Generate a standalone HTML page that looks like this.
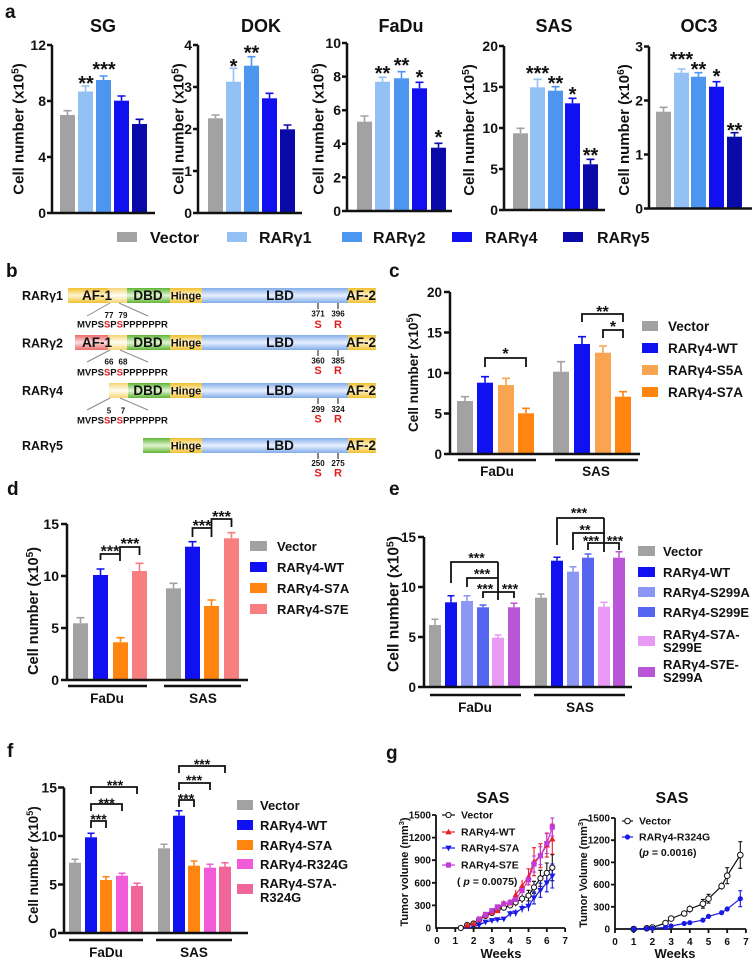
<!DOCTYPE html>
<html><head><meta charset="utf-8">
<style>
html,body{margin:0;padding:0;background:#fff;}
svg{display:block;}
text{font-family:"Liberation Sans",Arial,sans-serif;font-weight:bold;fill:#111;}
text.red{fill:#e31a1c;}
.ax{fill:none;stroke:#111;stroke-width:2.5;}
.thin{fill:none;stroke:#111;stroke-width:1.8;}
.br{fill:none;stroke:#111;stroke-width:1.8;}
</style></head>
<body>
<svg width="756" height="966" viewBox="0 0 756 966" xmlns="http://www.w3.org/2000/svg">
<defs>
<linearGradient id="gY" x1="0" y1="0" x2="0" y2="1"><stop offset="0" stop-color="#f0c02e"/><stop offset="0.5" stop-color="#fff4cf"/><stop offset="1" stop-color="#f0c02e"/></linearGradient>
<linearGradient id="gYl" x1="0" y1="0" x2="0" y2="1"><stop offset="0" stop-color="#f6d577"/><stop offset="0.5" stop-color="#fffdf3"/><stop offset="1" stop-color="#f6d577"/></linearGradient>
<linearGradient id="gG" x1="0" y1="0" x2="0" y2="1"><stop offset="0" stop-color="#5fb534"/><stop offset="0.5" stop-color="#e2f4d2"/><stop offset="1" stop-color="#5fb534"/></linearGradient>
<linearGradient id="gB" x1="0" y1="0" x2="0" y2="1"><stop offset="0" stop-color="#82ace9"/><stop offset="0.5" stop-color="#e8f0ff"/><stop offset="1" stop-color="#82ace9"/></linearGradient>
<linearGradient id="gR" x1="0" y1="0" x2="0" y2="1"><stop offset="0" stop-color="#ec6a6a"/><stop offset="0.5" stop-color="#fbdcdc"/><stop offset="1" stop-color="#ec6a6a"/></linearGradient>
<path id="tu" d="M0,-3.2L3.2,2.4L-3.2,2.4Z"/>
<path id="td" d="M0,3.2L3.2,-2.4L-3.2,-2.4Z"/>
<rect id="sq" x="-2.6" y="-2.6" width="5.2" height="5.2"/>
</defs>

<!-- ================= PANEL A ================= -->
<text x="5" y="18" font-size="19">a</text>
<g font-size="18" text-anchor="middle">
<text x="103" y="32">SG</text>
<text x="261" y="32">DOK</text>
<text x="401" y="32">FaDu</text>
<text x="554" y="32">SAS</text>
<text x="699" y="32">OC3</text>
</g>
<g font-size="15" text-anchor="middle">
<text transform="translate(23.5,129) rotate(-90)">Cell number (x10<tspan dy="-5" font-size="10">5</tspan><tspan dy="5">)</tspan></text>
<text transform="translate(183.5,129) rotate(-90)">Cell number (x10<tspan dy="-5" font-size="10">5</tspan><tspan dy="5">)</tspan></text>
<text transform="translate(323.5,129) rotate(-90)">Cell number (x10<tspan dy="-5" font-size="10">5</tspan><tspan dy="5">)</tspan></text>
<text transform="translate(474,130) rotate(-90)">Cell number (x10<tspan dy="-5" font-size="10">5</tspan><tspan dy="5">)</tspan></text>
<text transform="translate(629,130) rotate(-90)">Cell number (x10<tspan dy="-5" font-size="10">6</tspan><tspan dy="5">)</tspan></text>
</g>

<!-- SG -->
<g stroke-width="1.6" fill="none">
<rect x="60" y="115" width="15" height="98" fill="#a2a2a2"/><path d="M67.5,115V110.7M63.5,110.7H71.5" stroke="#a2a2a2"/>
<rect x="78" y="91.5" width="15" height="121.5" fill="#93c0f5"/><path d="M85.5,91.5V86M81.5,86H89.5" stroke="#93c0f5"/>
<rect x="96" y="80" width="15" height="133" fill="#4d96ef"/><path d="M103.5,80V76M99.5,76H107.5" stroke="#4d96ef"/>
<rect x="114" y="100.7" width="15" height="112.3" fill="#1010f0"/><path d="M121.5,100.7V96M117.5,96H125.5" stroke="#1010f0"/>
<rect x="132" y="124" width="15" height="89" fill="#0a0aa8"/><path d="M139.5,124V119.3M135.5,119.3H143.5" stroke="#0a0aa8"/>
</g>
<path class="ax" d="M52,45V213H155M47,45H52M47,101H52M47,157H52M47,213H52"/>
<g font-size="14" text-anchor="end"><text x="46" y="50">12</text><text x="46" y="106">8</text><text x="46" y="162">4</text><text x="46" y="218">0</text></g>
<g font-size="20" text-anchor="middle"><text x="86" y="90">**</text><text x="104" y="76">***</text></g>

<!-- DOK -->
<g stroke-width="1.6" fill="none">
<rect x="208" y="118.3" width="15" height="94.7" fill="#a2a2a2"/><path d="M215.5,118.3V115M211.5,115H219.5" stroke="#a2a2a2"/>
<rect x="226" y="81.7" width="15" height="131.3" fill="#93c0f5"/><path d="M233.5,81.7V68.3M229.5,68.3H237.5" stroke="#93c0f5"/>
<rect x="244" y="65.7" width="15" height="147.3" fill="#4d96ef"/><path d="M251.5,65.7V56.7M247.5,56.7H255.5" stroke="#4d96ef"/>
<rect x="262" y="98.3" width="15" height="114.7" fill="#1010f0"/><path d="M269.5,98.3V93.3M265.5,93.3H273.5" stroke="#1010f0"/>
<rect x="280" y="129.3" width="15" height="83.7" fill="#0a0aa8"/><path d="M287.5,129.3V125M283.5,125H291.5" stroke="#0a0aa8"/>
</g>
<path class="ax" d="M198,45V213H302M193,45H198M193,87H198M193,129H198M193,171H198M193,213H198"/>
<g font-size="14" text-anchor="end"><text x="192" y="50">4</text><text x="192" y="92">3</text><text x="192" y="134">2</text><text x="192" y="176">1</text><text x="192" y="218">0</text></g>
<g font-size="20" text-anchor="middle"><text x="233.5" y="73">*</text><text x="251.5" y="59.5">**</text></g>

<!-- FaDu -->
<g stroke-width="1.6" fill="none">
<rect x="357" y="121.7" width="15" height="89.3" fill="#a2a2a2"/><path d="M364.5,121.7V116M360.5,116H368.5" stroke="#a2a2a2"/>
<rect x="375" y="81.7" width="15" height="129.3" fill="#93c0f5"/><path d="M382.5,81.7V77.3M378.5,77.3H386.5" stroke="#93c0f5"/>
<rect x="394" y="78.3" width="15" height="132.7" fill="#4d96ef"/><path d="M401.5,78.3V71.7M397.5,71.7H405.5" stroke="#4d96ef"/>
<rect x="412" y="88.3" width="15" height="122.7" fill="#1010f0"/><path d="M419.5,88.3V82.3M415.5,82.3H423.5" stroke="#1010f0"/>
<rect x="431" y="147.7" width="15" height="63.3" fill="#0a0aa8"/><path d="M438.5,147.7V143.3M434.5,143.3H442.5" stroke="#0a0aa8"/>
</g>
<path class="ax" d="M347,43V211H452M342,43H347M342,76.6H347M342,110.2H347M342,143.8H347M342,177.4H347M342,211H347"/>
<g font-size="14" text-anchor="end"><text x="341" y="48">10</text><text x="341" y="81.6">8</text><text x="341" y="115.2">6</text><text x="341" y="148.8">4</text><text x="341" y="182.4">2</text><text x="341" y="216">0</text></g>
<g font-size="20" text-anchor="middle"><text x="382.5" y="80">**</text><text x="401.5" y="72">**</text><text x="419.5" y="84">*</text><text x="438.5" y="144">*</text></g>

<!-- SAS -->
<g stroke-width="1.6" fill="none">
<rect x="513" y="133.3" width="15" height="76.7" fill="#a2a2a2"/><path d="M520.5,133.3V128.3M516.5,128.3H524.5" stroke="#a2a2a2"/>
<rect x="530" y="87.3" width="15" height="122.7" fill="#93c0f5"/><path d="M537.5,87.3V79.3M533.5,79.3H541.5" stroke="#93c0f5"/>
<rect x="548" y="90.7" width="15" height="119.3" fill="#4d96ef"/><path d="M555.5,90.7V86.7M551.5,86.7H559.5" stroke="#4d96ef"/>
<rect x="565" y="103.3" width="15" height="106.7" fill="#1010f0"/><path d="M572.5,103.3V98.3M568.5,98.3H576.5" stroke="#1010f0"/>
<rect x="583" y="164.3" width="15" height="45.7" fill="#0a0aa8"/><path d="M590.5,164.3V159.3M586.5,159.3H594.5" stroke="#0a0aa8"/>
</g>
<path class="ax" d="M504,46V210H605M499,46H504M499,87H504M499,128H504M499,169H504M499,210H504"/>
<g font-size="14" text-anchor="end"><text x="498" y="51">20</text><text x="498" y="92">15</text><text x="498" y="133">10</text><text x="498" y="174">5</text><text x="498" y="215">0</text></g>
<g font-size="20" text-anchor="middle"><text x="537.5" y="80">***</text><text x="555.5" y="90">**</text><text x="572.5" y="101">*</text><text x="590.5" y="162">**</text></g>

<!-- OC3 -->
<g stroke-width="1.6" fill="none">
<rect x="656" y="111.7" width="15" height="96.8" fill="#a2a2a2"/><path d="M663.5,111.7V107.3M659.5,107.3H667.5" stroke="#a2a2a2"/>
<rect x="674" y="72.7" width="15" height="135.8" fill="#93c0f5"/><path d="M681.5,72.7V69M677.5,69H685.5" stroke="#93c0f5"/>
<rect x="691" y="76.7" width="15" height="131.8" fill="#4d96ef"/><path d="M698.5,76.7V72.7M694.5,72.7H702.5" stroke="#4d96ef"/>
<rect x="709" y="86.7" width="15" height="121.8" fill="#1010f0"/><path d="M716.5,86.7V81.7M712.5,81.7H720.5" stroke="#1010f0"/>
<rect x="727" y="136.7" width="15" height="71.8" fill="#0a0aa8"/><path d="M734.5,136.7V132.7M730.5,132.7H738.5" stroke="#0a0aa8"/>
</g>
<path class="ax" d="M649,46.5V208.5H752M644,46.5H649M644,100.5H649M644,154.5H649M644,208.5H649"/>
<g font-size="14" text-anchor="end"><text x="643" y="51.5">3</text><text x="643" y="105.5">2</text><text x="643" y="159.5">1</text><text x="643" y="213.5">0</text></g>
<g font-size="20" text-anchor="middle"><text x="681.5" y="66">***</text><text x="698.5" y="76">**</text><text x="716.5" y="83">*</text><text x="734.5" y="137">**</text></g>

<!-- legend a -->
<rect x="117" y="232" width="20" height="10" fill="#a2a2a2"/>
<rect x="227" y="232" width="20" height="10" fill="#93c0f5"/>
<rect x="342" y="232" width="20" height="10" fill="#4d96ef"/>
<rect x="452" y="232" width="20" height="10" fill="#1010f0"/>
<rect x="563" y="232" width="20" height="10" fill="#0a0aa8"/>
<g font-size="16"><text x="150" y="243">Vector</text><text x="259" y="243">RARγ1</text><text x="373" y="243">RARγ2</text><text x="485" y="243">RARγ4</text><text x="597" y="243">RARγ5</text></g>

<!-- ================= PANEL B ================= -->
<text x="6" y="277" font-size="19">b</text>
<g font-size="12.5"><text x="22" y="300">RARγ1</text><text x="22" y="347.5">RARγ2</text><text x="22" y="395">RARγ4</text><text x="22" y="450">RARγ5</text></g>
<!-- row 1 -->
<rect x="68" y="288" width="59" height="15" fill="url(#gY)"/>
<rect x="108" y="288" width="19" height="15" fill="url(#gYl)"/>
<rect x="127" y="288" width="43" height="15" fill="url(#gG)"/>
<rect x="170" y="288" width="32" height="15" fill="url(#gY)"/>
<rect x="202" y="288" width="146" height="15" fill="url(#gB)"/>
<rect x="348" y="288" width="28" height="15" fill="url(#gY)"/>
<!-- row 2 -->
<rect x="75" y="335" width="33" height="15" fill="url(#gR)"/>
<rect x="108" y="335" width="19" height="15" fill="url(#gYl)"/>
<rect x="127" y="335" width="43" height="15" fill="url(#gG)"/>
<rect x="170" y="335" width="32" height="15" fill="url(#gY)"/>
<rect x="202" y="335" width="146" height="15" fill="url(#gB)"/>
<rect x="348" y="335" width="28" height="15" fill="url(#gY)"/>
<!-- row 3 -->
<rect x="109" y="383" width="19" height="15" fill="url(#gYl)"/>
<rect x="128" y="383" width="42" height="15" fill="url(#gG)"/>
<rect x="170" y="383" width="32" height="15" fill="url(#gY)"/>
<rect x="202" y="383" width="146" height="15" fill="url(#gB)"/>
<rect x="348" y="383" width="28" height="15" fill="url(#gY)"/>
<!-- row 4 -->
<rect x="143" y="438" width="27" height="15" fill="url(#gG)"/>
<rect x="170" y="438" width="32" height="15" fill="url(#gY)"/>
<rect x="202" y="438" width="146" height="15" fill="url(#gB)"/>
<rect x="348" y="438" width="28" height="15" fill="url(#gY)"/>
<g font-size="13.5" text-anchor="middle">
<text x="97" y="300">AF-1</text><text x="148" y="300">DBD</text><text x="280" y="300">LBD</text><text x="361" y="300">AF-2</text>
<text x="97" y="347">AF-1</text><text x="148" y="347">DBD</text><text x="280" y="347">LBD</text><text x="361" y="347">AF-2</text>
<text x="148" y="395">DBD</text><text x="280" y="395">LBD</text><text x="361" y="395">AF-2</text>
<text x="280" y="450">LBD</text><text x="361" y="450">AF-2</text>
</g>
<g font-size="11" text-anchor="middle"><text x="186" y="299.5">Hinge</text><text x="186" y="346.5">Hinge</text><text x="186" y="394.5">Hinge</text><text x="186" y="449.5">Hinge</text></g>
<path d="M110,303L87,316M119,303L148,316M110,350L87,362M120,350L148,362M110,398L87,410M120,398L148,410" stroke="#8a8a8a" stroke-width="1" fill="none"/>
<g font-size="8" text-anchor="middle">
<text x="109" y="318">77</text><text x="123" y="318">79</text>
<text x="109" y="364.5">66</text><text x="123" y="364.5">68</text>
<text x="109" y="413.5">5</text><text x="123" y="413.5">7</text>
<text x="318" y="316.5">371</text><text x="338" y="316.5">396</text>
<text x="318" y="363.5">360</text><text x="338" y="363.5">385</text>
<text x="318" y="412">299</text><text x="338" y="412">324</text>
<text x="318" y="466">250</text><text x="338" y="466">275</text>
</g>
<g font-size="9.5">
<text x="77" y="327.5">MVPS<tspan fill="#e31a1c">S</tspan>P<tspan fill="#e31a1c">S</tspan>PPPPPPR</text>
<text x="77" y="375.5">MVPS<tspan fill="#e31a1c">S</tspan>P<tspan fill="#e31a1c">S</tspan>PPPPPPR</text>
<text x="77" y="423.5">MVPS<tspan fill="#e31a1c">S</tspan>P<tspan fill="#e31a1c">S</tspan>PPPPPPR</text>
</g>
<path d="M318,303V309M338,303V309M318,350V356M338,350V356M318,398V404M338,398V404M318,453V459M338,453V459" stroke="#111" stroke-width="1"/>
<g font-size="11" text-anchor="middle">
<text class="red" x="318" y="328">S</text><text class="red" x="338" y="328">R</text>
<text class="red" x="318" y="374">S</text><text class="red" x="338" y="374">R</text>
<text class="red" x="318" y="422.5">S</text><text class="red" x="338" y="422.5">R</text>
<text class="red" x="318" y="476.5">S</text><text class="red" x="338" y="476.5">R</text>
</g>

<!-- ================= PANEL C ================= -->
<text x="389" y="277" font-size="19">c</text>
<g stroke-width="1.6" fill="none">
<rect x="457" y="401" width="16" height="53" fill="#a2a2a2"/><path d="M465,401V396.7M461,396.7H469" stroke="#a2a2a2"/>
<rect x="477" y="382.7" width="16" height="71.3" fill="#1010f0"/><path d="M485,382.7V376.7M481,376.7H489" stroke="#1010f0"/>
<rect x="498" y="385" width="16" height="69" fill="#f9a451"/><path d="M506,385V378.3M502,378.3H510" stroke="#f9a451"/>
<rect x="518" y="413.3" width="16" height="40.7" fill="#ff8410"/><path d="M526,413.3V408.3M522,408.3H530" stroke="#ff8410"/>
<rect x="553" y="371.7" width="16" height="82.3" fill="#a2a2a2"/><path d="M561,371.7V361.7M557,361.7H565" stroke="#a2a2a2"/>
<rect x="574" y="344" width="16" height="110" fill="#1010f0"/><path d="M582,344V336.7M578,336.7H586" stroke="#1010f0"/>
<rect x="595" y="352.7" width="16" height="101.3" fill="#f9a451"/><path d="M603,352.7V346M599,346H607" stroke="#f9a451"/>
<rect x="615" y="396.7" width="16" height="57.3" fill="#ff8410"/><path d="M623,396.7V391.7M619,391.7H627" stroke="#ff8410"/>
</g>
<path class="ax" d="M450,292V454H640M444,292H450M444,332.5H450M444,373H450M444,413.5H450M444,454H450M458,460H536M555,460H638"/>
<g font-size="13.5" text-anchor="end"><text x="442" y="297">20</text><text x="442" y="337.5">15</text><text x="442" y="378">10</text><text x="442" y="418.5">5</text><text x="442" y="459">0</text></g>
<g font-size="13.5" text-anchor="middle"><text x="497" y="476">FaDu</text><text x="596" y="476">SAS</text></g>
<text transform="translate(418,372.5) rotate(-90)" font-size="13.6" text-anchor="middle">Cell number (x10<tspan dy="-5" font-size="9">5</tspan><tspan dy="5">)</tspan></text>
<path class="br" d="M485,367V358H526V367M582,322V314H623V322M603,338V330H623V338"/>
<g font-size="16" text-anchor="middle"><text x="505.5" y="359">*</text><text x="602.5" y="317">**</text><text x="613" y="332">*</text></g>
<rect x="642" y="321" width="16" height="10" fill="#a2a2a2"/>
<rect x="642" y="343" width="16" height="10" fill="#1010f0"/>
<rect x="642" y="365" width="16" height="10" fill="#f9a451"/>
<rect x="642" y="387" width="16" height="10" fill="#ff8410"/>
<g font-size="13.5"><text x="668" y="331">Vector</text><text x="668" y="353">RARγ4-WT</text><text x="668" y="375">RARγ4-S5A</text><text x="668" y="397">RARγ4-S7A</text></g>

<!-- ================= PANEL D ================= -->
<text x="7" y="495" font-size="19">d</text>
<g stroke-width="1.6" fill="none">
<rect x="73" y="623.3" width="15" height="56.7" fill="#a2a2a2"/><path d="M80.5,623.3V617.7M76.5,617.7H84.5" stroke="#a2a2a2"/>
<rect x="93" y="575" width="15" height="105" fill="#1010f0"/><path d="M100.5,575V569M96.5,569H104.5" stroke="#1010f0"/>
<rect x="113" y="642.3" width="15" height="37.7" fill="#ff8410"/><path d="M120.5,642.3V637.7M116.5,637.7H124.5" stroke="#ff8410"/>
<rect x="132" y="571" width="15" height="109" fill="#f77f7f"/><path d="M139.5,571V563.3M135.5,563.3H143.5" stroke="#f77f7f"/>
<rect x="166" y="588.3" width="15" height="91.7" fill="#a2a2a2"/><path d="M173.5,588.3V583.3M169.5,583.3H177.5" stroke="#a2a2a2"/>
<rect x="185" y="546.7" width="15" height="133.3" fill="#1010f0"/><path d="M192.5,546.7V541.7M188.5,541.7H196.5" stroke="#1010f0"/>
<rect x="204" y="606" width="15" height="74" fill="#ff8410"/><path d="M211.5,606V600M207.5,600H215.5" stroke="#ff8410"/>
<rect x="224" y="538.3" width="15" height="141.7" fill="#f77f7f"/><path d="M231.5,538.3V532.7M227.5,532.7H235.5" stroke="#f77f7f"/>
</g>
<path class="ax" d="M67,524V680H248M61,524H67M61,576H67M61,628H67M61,680H67M68,686H147M164,686H241"/>
<g font-size="14" text-anchor="end"><text x="59" y="529">15</text><text x="59" y="581">10</text><text x="59" y="633">5</text><text x="59" y="685">0</text></g>
<g font-size="13.5" text-anchor="middle"><text x="107" y="703">FaDu</text><text x="203" y="703">SAS</text></g>
<text transform="translate(38,611) rotate(-90)" font-size="14.6" text-anchor="middle">Cell number (x10<tspan dy="-5" font-size="10">5</tspan><tspan dy="5">)</tspan></text>
<path class="br" d="M100.5,560V554H120M120,561V547H139.5V555M192.5,537V528H211.5M211.5,537V519H231.5V527"/>
<g font-size="16" text-anchor="middle"><text x="110" y="556.5">***</text><text x="130" y="549">***</text><text x="202" y="531">***</text><text x="221.5" y="522">***</text></g>
<rect x="250" y="541" width="17" height="10" fill="#a2a2a2"/>
<rect x="250" y="562" width="17" height="10" fill="#1010f0"/>
<rect x="250" y="583" width="17" height="10" fill="#ff8410"/>
<rect x="250" y="604" width="17" height="10" fill="#f77f7f"/>
<g font-size="13"><text x="277" y="551">Vector</text><text x="277" y="572">RARγ4-WT</text><text x="277" y="593">RARγ4-S7A</text><text x="277" y="614">RARγ4-S7E</text></g>

<!-- ================= PANEL E ================= -->
<text x="389" y="495" font-size="19">e</text>
<g stroke-width="1.5" fill="none">
<rect x="429" y="625" width="12" height="62" fill="#a2a2a2"/><path d="M435,625V619.3M431.5,619.3H438.5" stroke="#a2a2a2"/>
<rect x="445" y="602.3" width="12" height="84.7" fill="#1010f0"/><path d="M451,602.3V595.7M447.5,595.7H454.5" stroke="#1010f0"/>
<rect x="461" y="601" width="12" height="86" fill="#8c96f5"/><path d="M467,601V595.7M463.5,595.7H470.5" stroke="#8c96f5"/>
<rect x="477" y="607.3" width="12" height="79.7" fill="#5565f0"/><path d="M483,607.3V605M479.5,605H486.5" stroke="#5565f0"/>
<rect x="492" y="637.7" width="12" height="49.3" fill="#e89af5"/><path d="M498,637.7V635M494.5,635H501.5" stroke="#e89af5"/>
<rect x="508" y="607.3" width="12" height="79.7" fill="#b955d6"/><path d="M514,607.3V603.3M510.5,603.3H517.5" stroke="#b955d6"/>
<rect x="535" y="597.7" width="12" height="89.3" fill="#a2a2a2"/><path d="M541,597.7V594M537.5,594H544.5" stroke="#a2a2a2"/>
<rect x="551" y="560.7" width="12" height="126.3" fill="#1010f0"/><path d="M557,560.7V557.3M553.5,557.3H560.5" stroke="#1010f0"/>
<rect x="567" y="571.7" width="12" height="115.3" fill="#8c96f5"/><path d="M573,571.7V566.7M569.5,566.7H576.5" stroke="#8c96f5"/>
<rect x="582" y="557.7" width="12" height="129.3" fill="#5565f0"/><path d="M588,557.7V554M584.5,554H591.5" stroke="#5565f0"/>
<rect x="598" y="606.7" width="12" height="80.3" fill="#e89af5"/><path d="M604,606.7V602.3M600.5,602.3H607.5" stroke="#e89af5"/>
<rect x="613" y="557.7" width="12" height="129.3" fill="#b955d6"/><path d="M619,557.7V551.7M615.5,551.7H622.5" stroke="#b955d6"/>
</g>
<path class="ax" d="M424,537V687H632M418,537H424M418,587H424M418,637H424M418,687H424M430,695H521M534,695H625"/>
<g font-size="13.5" text-anchor="end"><text x="416" y="542">15</text><text x="416" y="592">10</text><text x="416" y="642">5</text><text x="416" y="692">0</text></g>
<g font-size="13.5" text-anchor="middle"><text x="475" y="712">FaDu</text><text x="580" y="712">SAS</text></g>
<text transform="translate(398.5,604) rotate(-90)" font-size="15.5" text-anchor="middle">Cell number (x10<tspan dy="-5" font-size="10.5">5</tspan><tspan dy="5">)</tspan></text>
<path class="br" d="M451,583V562H498M467,587V578H498M483,598V592H514V598M498,562V600M557,545V518H604M573,550V533H604M588,550V543H619V550M604,518V552"/>
<g font-size="14" text-anchor="middle"><text x="476.5" y="562.7">***</text><text x="482" y="578.7">***</text><text x="485" y="593.7">***</text><text x="510" y="593.7">***</text>
<text x="579" y="517.7">***</text><text x="585" y="534.7">**</text><text x="591" y="545.7">***</text><text x="615" y="545.7">***</text></g>
<rect x="638" y="546" width="17" height="10" fill="#a2a2a2"/>
<rect x="638" y="567" width="17" height="10" fill="#1010f0"/>
<rect x="638" y="587" width="17" height="10" fill="#8c96f5"/>
<rect x="638" y="607" width="17" height="10" fill="#5565f0"/>
<rect x="638" y="636" width="17" height="10" fill="#e89af5"/>
<rect x="638" y="667" width="17" height="10" fill="#b955d6"/>
<g font-size="13"><text x="663" y="556">Vector</text><text x="663" y="577">RARγ4-WT</text><text x="663" y="597">RARγ4-S299A</text><text x="663" y="617">RARγ4-S299E</text>
<text x="663" y="639">RARγ4-S7A-</text><text x="663" y="652">S299E</text><text x="663" y="669">RARγ4-S7E-</text><text x="663" y="682">S299A</text></g>

<!-- ================= PANEL F ================= -->
<text x="7" y="757" font-size="19">f</text>
<g stroke-width="1.5" fill="none">
<rect x="69" y="862.7" width="12" height="70.3" fill="#a2a2a2"/><path d="M75,862.7V859.3M71.5,859.3H78.5" stroke="#a2a2a2"/>
<rect x="85" y="837.3" width="12" height="95.7" fill="#1010f0"/><path d="M91,837.3V833.3M87.5,833.3H94.5" stroke="#1010f0"/>
<rect x="100" y="880" width="12" height="53" fill="#ff8410"/><path d="M106,880V876.7M102.5,876.7H109.5" stroke="#ff8410"/>
<rect x="116" y="875.7" width="12" height="57.3" fill="#f25bd8"/><path d="M122,875.7V873.3M118.5,873.3H125.5" stroke="#f25bd8"/>
<rect x="131" y="886" width="12" height="47" fill="#f0659a"/><path d="M137,886V883.3M133.5,883.3H140.5" stroke="#f0659a"/>
<rect x="158" y="848.3" width="12" height="84.7" fill="#a2a2a2"/><path d="M164,848.3V844.3M160.5,844.3H167.5" stroke="#a2a2a2"/>
<rect x="173" y="815.7" width="12" height="117.3" fill="#1010f0"/><path d="M179,815.7V810.7M175.5,810.7H182.5" stroke="#1010f0"/>
<rect x="188" y="865.7" width="12" height="67.3" fill="#ff8410"/><path d="M194,865.7V861M190.5,861H197.5" stroke="#ff8410"/>
<rect x="204" y="867.7" width="12" height="65.3" fill="#f25bd8"/><path d="M210,867.7V864.3M206.5,864.3H213.5" stroke="#f25bd8"/>
<rect x="219" y="866.7" width="12" height="66.3" fill="#f0659a"/><path d="M225,866.7V862.7M221.5,862.7H228.5" stroke="#f0659a"/>
</g>
<path class="ax" d="M64,787.5V933H248M58,787.5H64M58,836H64M58,884.5H64M58,933H64M69,940H143M156,940H232"/>
<g font-size="14" text-anchor="end"><text x="57" y="792.5">15</text><text x="57" y="841">10</text><text x="57" y="889.5">5</text><text x="57" y="938">0</text></g>
<g font-size="13.5" text-anchor="middle"><text x="106" y="957">FaDu</text><text x="194" y="957">SAS</text></g>
<text transform="translate(38,865) rotate(-90)" font-size="13.4" text-anchor="middle">Cell number (x10<tspan dy="-5" font-size="9">5</tspan><tspan dy="5">)</tspan></text>
<path class="br" d="M91,828V821H106V828M91,811V804H122V811M91,794V787H137V794M179,807V800H194V807M179,790V783H210V790M179,773V766H225V773"/>
<g font-size="14" text-anchor="middle"><text x="98.5" y="824">***</text><text x="106.5" y="808">***</text><text x="115" y="790">***</text>
<text x="186" y="803.5">***</text><text x="194" y="785">***</text><text x="202" y="769">***</text></g>
<rect x="237" y="800" width="16" height="10" fill="#a2a2a2"/>
<rect x="237" y="820" width="16" height="10" fill="#1010f0"/>
<rect x="237" y="840" width="16" height="10" fill="#ff8410"/>
<rect x="237" y="859" width="16" height="10" fill="#f25bd8"/>
<rect x="237" y="884" width="16" height="10" fill="#f0659a"/>
<g font-size="13"><text x="260" y="810">Vector</text><text x="260" y="830">RARγ4-WT</text><text x="260" y="850">RARγ4-S7A</text><text x="260" y="869">RARγ4-R324G</text><text x="260" y="888">RARγ4-S7A-</text><text x="260" y="902">R324G</text></g>

<!-- ================= PANEL G ================= -->
<text x="386" y="759" font-size="19">g</text>
<!-- left chart -->
<text x="493" y="803" font-size="16" text-anchor="middle">SAS</text>
<text x="501" y="958" font-size="13" text-anchor="middle">Weeks</text>
<text transform="translate(408,872) rotate(-90)" font-size="11" text-anchor="middle">Tumor volume (mm<tspan dy="-4" font-size="7.5">3</tspan><tspan dy="4">)</tspan></text>
<path class="thin" d="M436,815V928H565M432,815H436M432,837.6H436M432,860.2H436M432,882.8H436M432,905.4H436M455.3,928V932M473.6,928V932M491.9,928V932M510.2,928V932M528.5,928V932M546.8,928V932M565.1,928V932M437,928V932"/>
<g font-size="10" text-anchor="end"><text x="431" y="818.5">1500</text><text x="431" y="841">1200</text><text x="431" y="863.7">900</text><text x="431" y="886.3">600</text><text x="431" y="909">300</text><text x="431" y="931.5">0</text></g>
<g font-size="10" text-anchor="middle"><text x="437" y="944">0</text><text x="455.3" y="944">1</text><text x="473.6" y="944">2</text><text x="491.9" y="944">3</text><text x="510.2" y="944">4</text><text x="528.5" y="944">5</text><text x="546.8" y="944">6</text><text x="565.1" y="944">7</text></g>
<!-- vector -->
<polyline fill="none" stroke="#111" stroke-width="1.2" points="460.8,928 467.2,925 473.6,923.5 479.1,919.7 485.5,915.9 491.9,912.9 497.4,909.9 503.8,907.7 510.2,905.4 515.7,902.4 522.1,898.6 528.5,895.6 534,887.3 540.4,878.3 546.8,873 552.3,867.7"/>
<path fill="none" stroke="#111" stroke-width="1.1" d="M485.5,913.6V918.2M491.9,910.6V915.2M497.4,907.6V912.2M503.8,904.7V910.7M510.2,902.4V908.4M515.7,898.6V906.2M522.1,894.1V903.1M528.5,890.3V900.9M534,881.3V893.3M540.4,870.3V886.3M546.8,863V883M552.3,854.7V880.7M526.5,890.3H530.5M526.5,900.9H530.5M532,881.3H536M532,893.3H536M538.4,870.3H542.4M538.4,886.3H542.4M544.8,863H548.8M544.8,883H548.8M550.3,854.7H554.3M550.3,880.7H554.3"/>
<!-- S7A -->
<polyline fill="none" stroke="#1a1ae6" stroke-width="1.2" points="460.8,928 467.2,928 473.6,926.5 479.1,925 485.5,922 491.9,920.5 497.4,919.7 503.8,919 510.2,913.7 515.7,912.9 522.1,908.4 528.5,906.2 534,897.9 540.4,890.3 546.8,882.8 552.3,876"/>
<path fill="none" stroke="#1a1ae6" stroke-width="1.1" d="M510.2,910.7V916.7M515.7,909.4V916.4M522.1,904.4V912.4M528.5,901.2V911.2M534,891.9V903.9M540.4,883.3V897.3M546.8,873.8V891.8M552.3,864V888M532,891.9H536M532,903.9H536M538.4,883.3H542.4M538.4,897.3H542.4M544.8,873.8H548.8M544.8,891.8H548.8M550.3,864H554.3M550.3,888H554.3"/>
<!-- WT -->
<polyline fill="none" stroke="#e8202a" stroke-width="1.2" points="460.8,928 467.2,925 473.6,923.5 479.1,919.7 485.5,915.2 491.9,912.2 497.4,910.7 503.8,903.1 510.2,903.1 515.7,894.9 522.1,885.8 528.5,876.8 534,861.7 540.4,855.7 546.8,845.1 552.3,839"/>
<path fill="none" stroke="#e8202a" stroke-width="1.1" d="M510.2,899.1V907.1M515.7,889.9V899.9M522.1,879.8V891.8M528.5,868.8V884.8M534,847.7V875.7M540.4,843.7V867.7M546.8,833.1V857.1M552.3,824V854M526.5,868.8H530.5M526.5,884.8H530.5M532,847.7H536M532,875.7H536M538.4,843.7H542.4M538.4,867.7H542.4M544.8,833.1H548.8M544.8,857.1H548.8M550.3,824H554.3M550.3,854H554.3"/>
<!-- S7E -->
<polyline fill="none" stroke="#c23ad8" stroke-width="1.2" points="460.8,928 467.2,925 473.6,923.5 479.1,919 485.5,914.4 491.9,910.7 497.4,906.9 503.8,903.9 510.2,902.4 515.7,899.4 522.1,890.3 528.5,879.8 534,864 540.4,855.7 546.8,843.6 552.3,827.1"/>
<path fill="none" stroke="#c23ad8" stroke-width="1.1" d="M522.1,885.3V895.3M528.5,873.8V885.8M534,856V872M540.4,846.7V864.7M546.8,833.6V853.6M552.3,818.1V836.1M532,856H536M532,872H536M538.4,846.7H542.4M538.4,864.7H542.4M544.8,833.6H548.8M544.8,853.6H548.8M550.3,818.1H554.3M550.3,836.1H554.3"/>
<!-- markers -->
<g fill="#fff" stroke="#111" stroke-width="1">
<circle cx="460.8" cy="928" r="2.6"/><circle cx="467.2" cy="925" r="2.6"/><circle cx="473.6" cy="923.5" r="2.6"/><circle cx="479.1" cy="919.7" r="2.6"/><circle cx="485.5" cy="915.9" r="2.6"/><circle cx="491.9" cy="912.9" r="2.6"/><circle cx="497.4" cy="909.9" r="2.6"/><circle cx="503.8" cy="907.7" r="2.6"/><circle cx="510.2" cy="905.4" r="2.6"/><circle cx="515.7" cy="902.4" r="2.6"/><circle cx="522.1" cy="898.6" r="2.6"/><circle cx="528.5" cy="895.6" r="2.6"/><circle cx="534" cy="887.3" r="2.6"/><circle cx="540.4" cy="878.3" r="2.6"/><circle cx="546.8" cy="873" r="2.6"/><circle cx="552.3" cy="867.7" r="2.6"/>
</g>
<g fill="#1a1ae6">
<use href="#td" x="479.1" y="925"/><use href="#td" x="485.5" y="922"/><use href="#td" x="491.9" y="920.5"/><use href="#td" x="497.4" y="919.7"/><use href="#td" x="503.8" y="919"/><use href="#td" x="510.2" y="913.7"/><use href="#td" x="515.7" y="912.9"/><use href="#td" x="522.1" y="908.4"/><use href="#td" x="528.5" y="906.2"/><use href="#td" x="534" y="897.9"/><use href="#td" x="540.4" y="890.3"/><use href="#td" x="546.8" y="882.8"/><use href="#td" x="552.3" y="876"/>
</g>
<g fill="#e8202a">
<use href="#tu" x="467.2" y="925"/><use href="#tu" x="473.6" y="923.5"/><use href="#tu" x="479.1" y="919.7"/><use href="#tu" x="485.5" y="915.2"/><use href="#tu" x="491.9" y="912.2"/><use href="#tu" x="497.4" y="910.7"/><use href="#tu" x="503.8" y="903.1"/><use href="#tu" x="510.2" y="903.1"/><use href="#tu" x="515.7" y="894.9"/><use href="#tu" x="522.1" y="885.8"/><use href="#tu" x="528.5" y="876.8"/><use href="#tu" x="534" y="861.7"/><use href="#tu" x="540.4" y="855.7"/><use href="#tu" x="546.8" y="845.1"/><use href="#tu" x="552.3" y="839"/>
</g>
<g fill="#c23ad8">
<use href="#sq" x="479.1" y="919"/><use href="#sq" x="485.5" y="914.4"/><use href="#sq" x="491.9" y="910.7"/><use href="#sq" x="497.4" y="906.9"/><use href="#sq" x="503.8" y="903.9"/><use href="#sq" x="510.2" y="902.4"/><use href="#sq" x="515.7" y="899.4"/><use href="#sq" x="522.1" y="890.3"/><use href="#sq" x="528.5" y="879.8"/><use href="#sq" x="534" y="864"/><use href="#sq" x="540.4" y="855.7"/><use href="#sq" x="546.8" y="843.6"/><use href="#sq" x="552.3" y="827.1"/>
</g>
<!-- left legend -->
<path d="M442,815H455" stroke="#111" stroke-width="1.2"/><circle cx="448.5" cy="815" r="2.6" fill="#fff" stroke="#111" stroke-width="1"/>
<path d="M442,832H455" stroke="#e8202a" stroke-width="1.2"/><use href="#tu" x="448.5" y="832" fill="#e8202a"/>
<path d="M442,848H455" stroke="#1a1ae6" stroke-width="1.2"/><use href="#td" x="448.5" y="848" fill="#1a1ae6"/>
<path d="M442,865H455" stroke="#c23ad8" stroke-width="1.2"/><use href="#sq" x="448.5" y="865" fill="#c23ad8"/>
<g font-size="10.5"><text x="461" y="818.5">Vector</text><text x="461" y="835.5">RARγ4-WT</text><text x="461" y="851.5">RARγ4-S7A</text><text x="461" y="868.5">RARγ4-S7E</text><text x="457" y="885">( <tspan font-style="italic">p</tspan> = 0.0075)</text></g>

<!-- right chart -->
<text x="672" y="803" font-size="16" text-anchor="middle">SAS</text>
<text x="675" y="958" font-size="13" text-anchor="middle">Weeks</text>
<text transform="translate(587,873) rotate(-90)" font-size="11" text-anchor="middle">Tumor Volume (mm<tspan dy="-4" font-size="7.5">3</tspan><tspan dy="4">)</tspan></text>
<path class="thin" d="M615,818V929H746M611,818H615M611,840.2H615M611,862.4H615M611,884.6H615M611,906.8H615M615,929V933M633.7,929V933M652.4,929V933M671.1,929V933M689.8,929V933M708.5,929V933M727.2,929V933M745.9,929V933"/>
<g font-size="10" text-anchor="end"><text x="610" y="821.5">1500</text><text x="610" y="843.7">1200</text><text x="610" y="865.9">900</text><text x="610" y="888.1">600</text><text x="610" y="910.3">300</text><text x="610" y="932.5">0</text></g>
<g font-size="10" text-anchor="middle"><text x="615" y="945">0</text><text x="633.7" y="945">1</text><text x="652.4" y="945">2</text><text x="671.1" y="945">3</text><text x="689.8" y="945">4</text><text x="708.5" y="945">5</text><text x="727.2" y="945">6</text><text x="745.9" y="945">7</text></g>
<polyline fill="none" stroke="#111" stroke-width="1.2" points="633.7,929 646.8,928.3 652.4,927.5 665.5,923.1 671.1,918.6 684.2,913.5 689.8,909 702.9,903.8 708.5,898.7 721.6,886.1 727.2,875.7 740.3,855"/>
<path fill="none" stroke="#111" stroke-width="1.1" d="M684.2,911.3V915.7M689.8,905.3V912.7M702.9,899.4V908.2M708.5,894.3V903.1M721.6,882.4V889.8M727.2,867.7V883.7M740.3,841.7V868.3M700.9,899.4H704.9M700.9,908.2H704.9M706.5,894.3H710.5M706.5,903.1H710.5M725.2,867.7H729.2M725.2,883.7H729.2M738.3,841.7H742.3M738.3,868.3H742.3"/>
<polyline fill="none" stroke="#1a1ae6" stroke-width="1.2" points="633.7,929 646.8,928.6 652.4,928.3 665.5,927.5 671.1,926 684.2,923.5 689.8,922.7 702.9,920.1 708.5,916.4 721.6,912.7 727.2,909 740.3,898.7"/>
<path fill="none" stroke="#1a1ae6" stroke-width="1.1" d="M708.5,913.9V918.9M727.2,906.5V911.5M740.3,890.7V906.7M738.3,890.7H742.3M738.3,906.7H742.3"/>
<g fill="#fff" stroke="#111" stroke-width="1">
<circle cx="633.7" cy="929" r="2.8"/><circle cx="646.8" cy="928.3" r="2.8"/><circle cx="652.4" cy="927.5" r="2.8"/><circle cx="665.5" cy="923.1" r="2.8"/><circle cx="671.1" cy="918.6" r="2.8"/><circle cx="684.2" cy="913.5" r="2.8"/><circle cx="689.8" cy="909" r="2.8"/><circle cx="702.9" cy="903.8" r="2.8"/><circle cx="708.5" cy="898.7" r="2.8"/><circle cx="721.6" cy="886.1" r="2.8"/><circle cx="727.2" cy="875.7" r="2.8"/><circle cx="740.3" cy="855" r="2.8"/>
</g>
<g fill="#1a1ae6">
<circle cx="633.7" cy="929" r="2.6"/><circle cx="646.8" cy="928.6" r="2.6"/><circle cx="652.4" cy="928.3" r="2.6"/><circle cx="665.5" cy="927.5" r="2.6"/><circle cx="671.1" cy="926" r="2.6"/><circle cx="684.2" cy="923.5" r="2.6"/><circle cx="689.8" cy="922.7" r="2.6"/><circle cx="702.9" cy="920.1" r="2.6"/><circle cx="708.5" cy="916.4" r="2.6"/><circle cx="721.6" cy="912.7" r="2.6"/><circle cx="727.2" cy="909" r="2.6"/><circle cx="740.3" cy="898.7" r="2.6"/>
</g>
<path d="M622,821H633" stroke="#111" stroke-width="1.2"/><circle cx="627.5" cy="821" r="2.8" fill="#fff" stroke="#111" stroke-width="1"/>
<path d="M622,837H633" stroke="#1a1ae6" stroke-width="1.2"/><circle cx="627.5" cy="837" r="2.6" fill="#1a1ae6"/>
<g font-size="10.5"><text x="639" y="824.5">Vector</text><text x="639" y="840.5">RARγ4-R324G</text><text x="639" y="856">(<tspan font-style="italic">p</tspan> = 0.0016)</text></g>
</svg>
</body></html>
